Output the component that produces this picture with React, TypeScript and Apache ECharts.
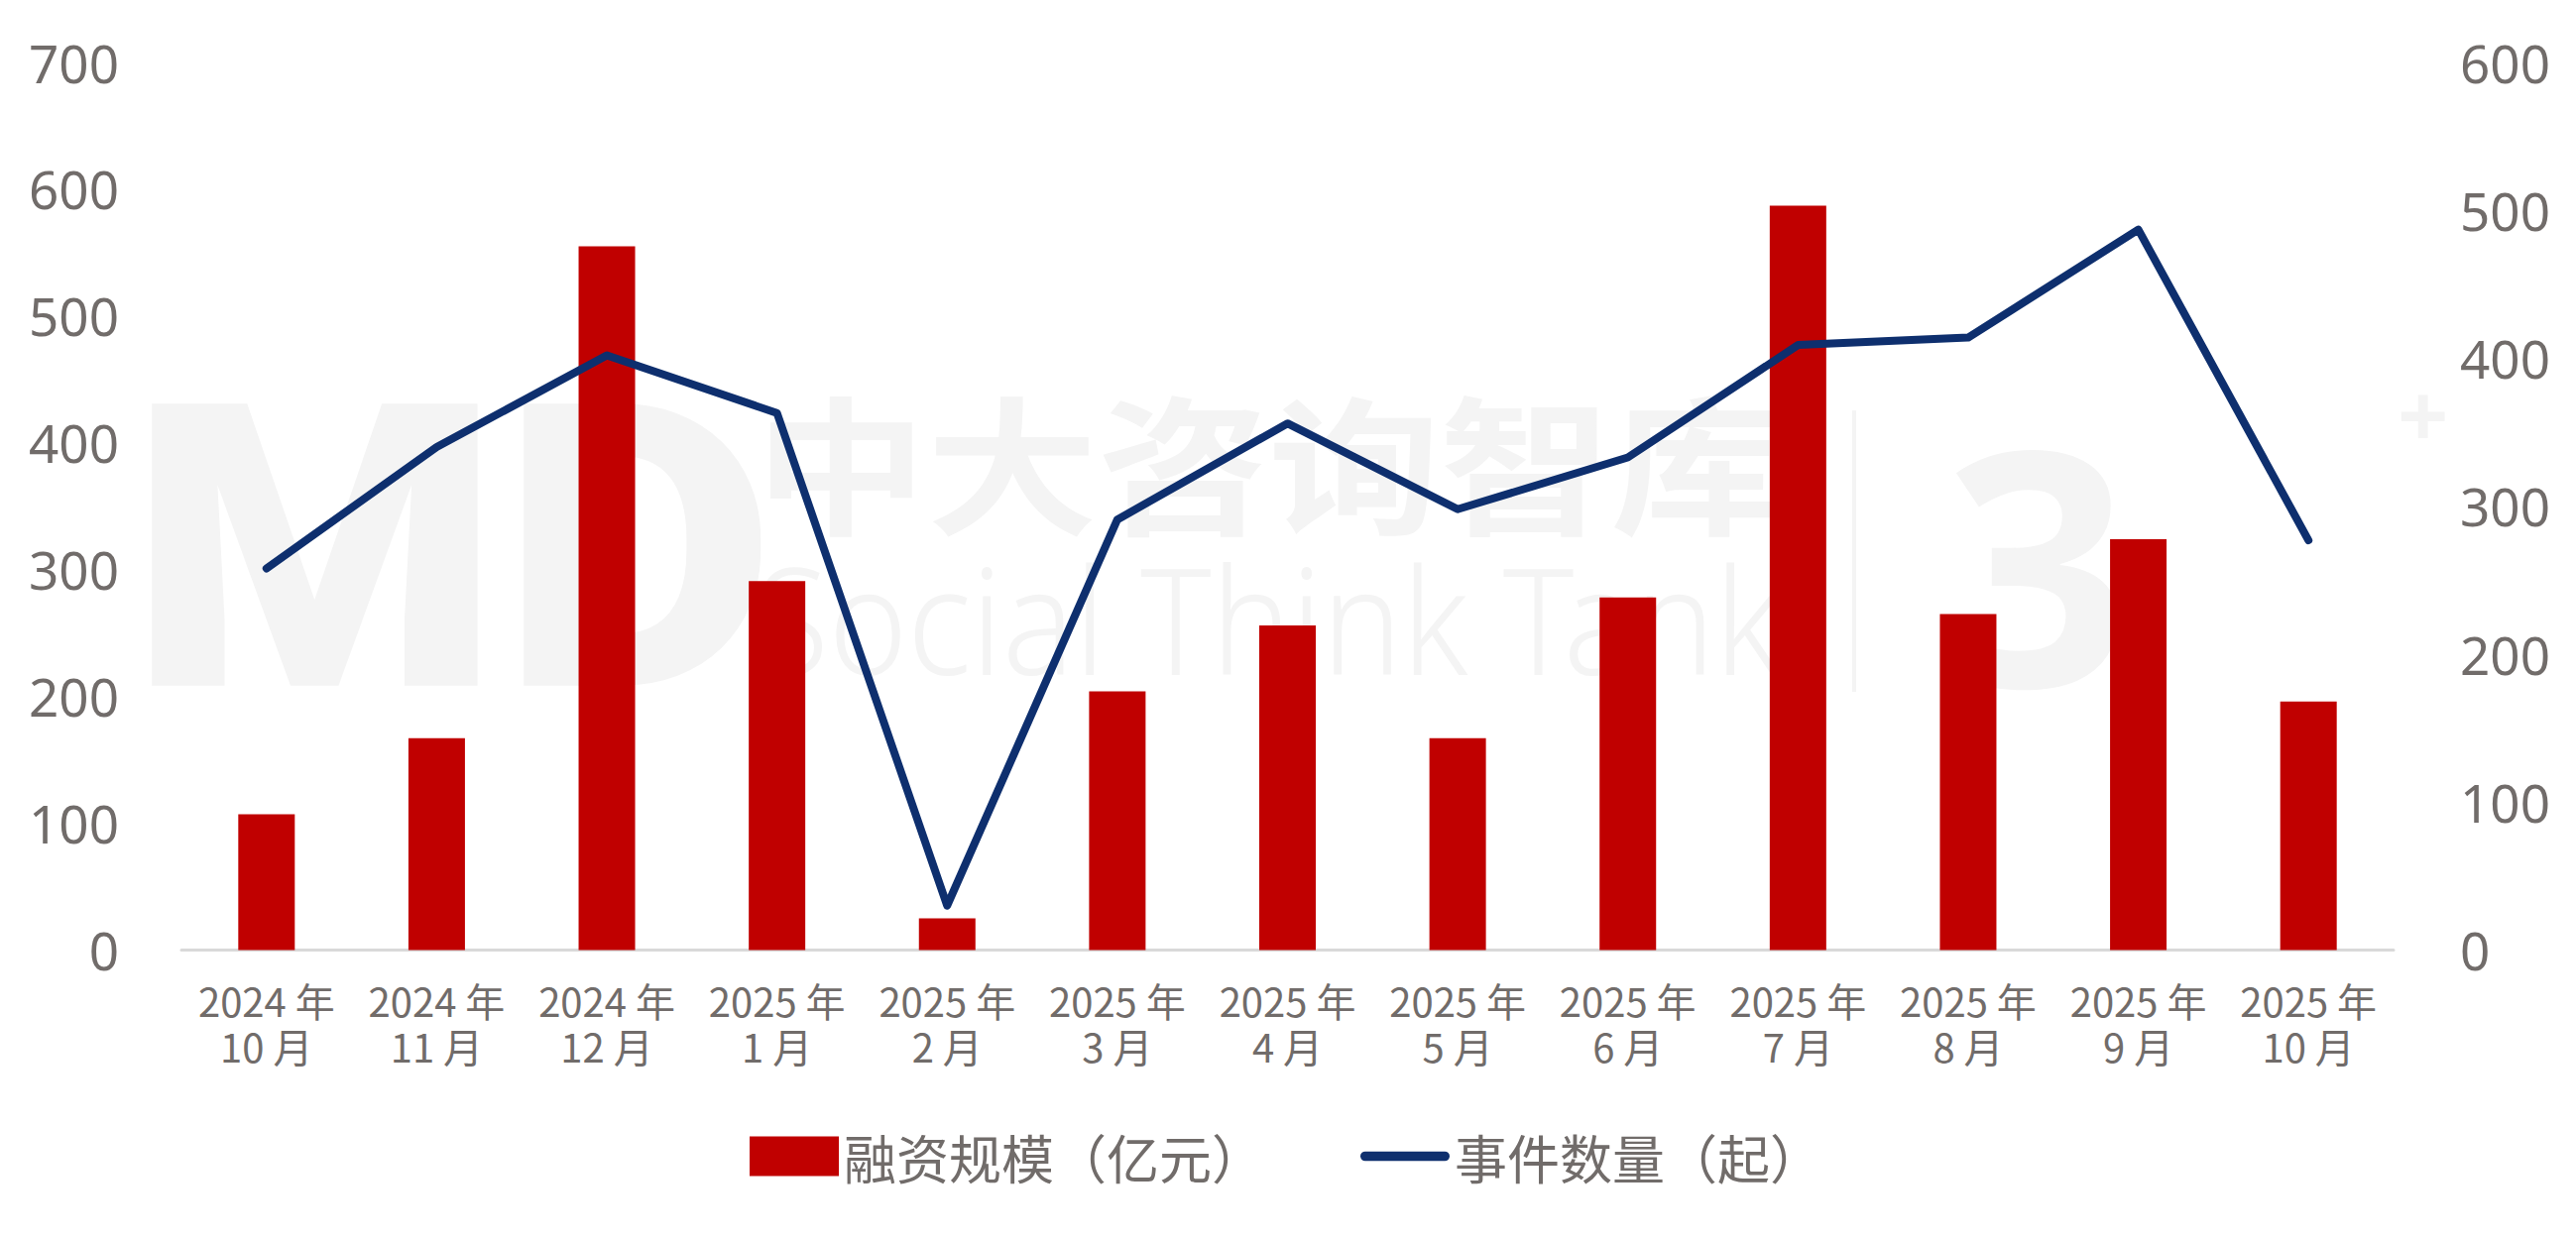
import React, { useEffect, useRef } from "react";
import * as echarts from "echarts";

const categories = [
  "2024 年\n10 月", "2024 年\n11 月", "2024 年\n12 月",
  "2025 年\n1 月", "2025 年\n2 月", "2025 年\n3 月", "2025 年\n4 月",
  "2025 年\n5 月", "2025 年\n6 月", "2025 年\n7 月", "2025 年\n8 月",
  "2025 年\n9 月", "2025 年\n10 月",
];
const fundingValues = [107, 167, 555, 291, 25, 204, 256, 167, 278, 587, 265, 324, 196];
const eventCounts = [258, 340, 402, 363, 30, 291, 356, 298, 333, 409, 414, 487, 277];
const seriesNames = ["融资规模（亿元）", "事件数量（起）"];

const LABEL_COLOR = "#716c6a";
const BAR_COLOR = "#c00000";
const LINE_COLOR = "#0e2f6e";
const WM = "#f4f4f4";

export default function App() {
  const ref = useRef<HTMLDivElement>(null);
  useEffect(() => {
    if (!ref.current) return;
    const chart = echarts.init(ref.current, undefined, { renderer: "svg" });
    chart.setOption({
      animation: false,
      backgroundColor: "#ffffff",
      graphic: [
        {
          type: "text", x: 130, y: 355, z: -10, silent: true,
          style: { text: "MD", fill: WM, fontFamily: "Roboto", fontWeight: 900, fontSize: 400 },
          scaleX: 1.07, scaleY: 1.0,
        },
        {
          type: "text", x: 762, y: 388, z: -10, silent: true,
          style: { text: "中大咨询智库", fill: WM, fontFamily: "Noto Sans CJK SC", fontWeight: 700, fontSize: 150 },
          scaleX: 1.15, scaleY: 1,
        },
        {
          type: "text", x: 762, y: 548, z: -10, silent: true,
          style: { text: "Social Think Tank", fill: WM, fontFamily: "Noto Sans", fontWeight: 300, fontSize: 150 },
          scaleX: 0.9, scaleY: 1,
        },
        {
          type: "line", z: -10, silent: true,
          shape: { x1: 1870, y1: 414, x2: 1870, y2: 698 },
          style: { stroke: WM, lineWidth: 4 },
        },
        {
          type: "text", x: 1960, y: 400, z: -10, silent: true,
          style: { text: "3", fill: WM, fontFamily: "Noto Sans", fontWeight: 700, fontSize: 330 },
        },
        {
          type: "text", x: 2418, y: 372, z: -10, silent: true,
          style: { text: "+", fill: WM, fontFamily: "Noto Sans", fontWeight: 700, fontSize: 90 },
        },
      ],
      legend: {
        left: 756,
        top: 1140,
        padding: 0,
        itemWidth: 90,
        itemHeight: 40,
        itemGap: 97,
        textStyle: { fontSize: 53, color: LABEL_COLOR, fontFamily: "Noto Sans CJK SC" },
        data: [
          { name: seriesNames[0], icon: "rect" },
          {
            name: seriesNames[1],
            icon: "path://M5,0L88,0A5,5,0,0,1,88,10L5,10A5,5,0,0,1,5,0Z",
            itemStyle: { color: LINE_COLOR },
          },
        ],
      },
      grid: { left: 183, right: 184, top: 63, bottom: 290.5, containLabel: false },
      xAxis: {
        type: "category",
        data: categories,
        boundaryGap: true,
        axisLine: { show: true, lineStyle: { color: "#d9d9d9", width: 3 } },
        axisTick: { show: false },
        axisLabel: {
          color: LABEL_COLOR,
          fontFamily: "Noto Sans CJK SC",
          fontSize: 40,
          lineHeight: 46,
          margin: 27,
          interval: 0,
        },
      },
      yAxis: [
        {
          type: "value", min: 0, max: 700, interval: 100, position: "left",
          splitLine: { show: false }, axisLine: { show: false }, axisTick: { show: false },
          axisLabel: { color: LABEL_COLOR, fontFamily: "Noto Sans", fontSize: 53, margin: 63 },
        },
        {
          type: "value", min: 0, max: 600, interval: 100, position: "right",
          splitLine: { show: false }, axisLine: { show: false }, axisTick: { show: false },
          axisLabel: { color: LABEL_COLOR, fontFamily: "Noto Sans", fontSize: 53, margin: 67 },
        },
      ],
      series: [
        {
          name: seriesNames[0],
          type: "bar",
          yAxisIndex: 0,
          data: fundingValues,
          barWidth: 57,
          itemStyle: { color: BAR_COLOR },
          z: 2,
        },
        {
          name: seriesNames[1],
          type: "line",
          yAxisIndex: 1,
          data: eventCounts,
          showSymbol: false,
          symbol: "none",
          itemStyle: { color: LINE_COLOR },
          lineStyle: { color: LINE_COLOR, width: 8, cap: "round", join: "round" },
          z: 3,
        },
      ],
    });
    return () => chart.dispose();
  }, []);
  return (
    <div
      ref={ref}
      style={{ position: "fixed", left: 0, top: 0, width: 2598, height: 1249, background: "#fff" }}
    />
  );
}
